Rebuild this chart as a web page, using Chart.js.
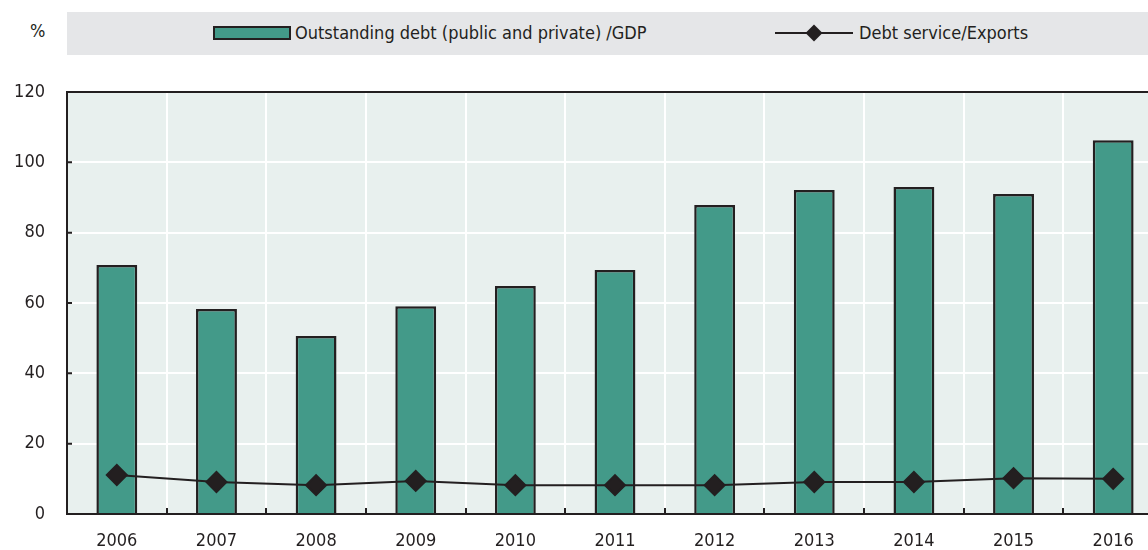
<!DOCTYPE html>
<html lang="en">
<head>
    <meta charset="UTF-8">
    <title>Debt chart</title>
    <script src="https://cdn.jsdelivr.net/npm/chart.js"></script>
    <style>
        html, body { margin: 0; padding: 0; background: #fff; overflow: hidden; }
        .wrap { position: relative; width: 1148px; height: 550px; overflow: hidden;
                font-family: 'Liberation Sans Narrow', 'DejaVu Sans Condensed', 'Roboto', sans-serif; color: #231f20; }
        .unit { position: absolute; left: 30px; top: 20px; font-size: 18px; }
        .legend { position: absolute; left: 67px; top: 12px; width: 1100px; height: 43px; background: #e5e6e8; }
        .item { position: absolute; top: 11px; font-size: 18px; line-height: 20px; white-space: nowrap; }
        .swatch { display: inline-block; width: 74px; height: 10px; background: #439a89; border: 2px solid #231f20;
                  vertical-align: -1px; margin-right: 4px; }
        .lineKey { display: inline-block; position: relative; width: 78px; height: 20px; vertical-align: top; margin-right: 6px; }
        .lineKey::before { content: ''; position: absolute; left: 0; right: 0; top: 9px; height: 2px; background: #231f20; }
        .lineKey::after { content: ''; position: absolute; left: 33px; top: 4px; width: 12px; height: 12px;
                          background: #231f20; transform: rotate(45deg); }
        canvas { position: absolute; left: 0; top: 0; }
    </style>
</head>
<body>
    <div class="wrap">
        <div class="unit">%</div>
        <div class="legend">
            <div class="item" style="left:146px"><span class="swatch"></span>Outstanding debt (public and private) /GDP</div>
            <div class="item" style="left:708px"><span class="lineKey"></span>Debt service/Exports</div>
        </div>
        <canvas id="debtChart" width="1175" height="550"></canvas>
    </div>

    <script>
        // data
        const years = ['2006', '2007', '2008', '2009', '2010', '2011', '2012', '2013', '2014', '2015', '2016'];
        const debtToGdp = [70.8, 58.3, 50.6, 59.1, 64.8, 69.4, 87.9, 92.1, 93.0, 91.0, 106.3];
        const debtServiceToExports = [11.1, 9.1, 8.2, 9.4, 8.2, 8.2, 8.2, 9.1, 9.1, 10.2, 10.0];
        const yTicks = [0, 20, 40, 60, 80, 100, 120];

        const ink = '#231f20';

        // plot background + frame + small inner tick marks
        const frame = {
            id: 'frame',
            beforeDraw(chart) {
                const { ctx, chartArea: a } = chart;
                ctx.save();
                ctx.fillStyle = '#e8f0ee';
                ctx.fillRect(a.left, a.top, a.right - a.left, a.bottom - a.top);
                ctx.restore();
            },
            afterDatasetsDraw(chart) {
                const { ctx, chartArea: a, scales } = chart;
                ctx.save();
                ctx.strokeStyle = ink;
                ctx.lineWidth = 2;
                ctx.beginPath();
                ctx.moveTo(a.left, a.top);
                ctx.lineTo(a.right, a.top);
                ctx.stroke();
                ctx.beginPath();
                yTicks.forEach(v => {
                    const y = scales.y.getPixelForValue(v);
                    ctx.moveTo(a.left, y);
                    ctx.lineTo(a.left + 5, y);
                });
                const step = (a.right - a.left) / years.length;
                for (let i = 1; i < years.length; i++) {
                    const x = Math.round(a.left + i * step);
                    ctx.moveTo(x, a.bottom);
                    ctx.lineTo(x, a.bottom - 6);
                }
                ctx.stroke();
                ctx.restore();
            }
        };

        const fontFamily = "'Liberation Sans Narrow', 'DejaVu Sans Condensed', 'Roboto', sans-serif";

        new Chart(document.getElementById('debtChart'), {
            data: {
                labels: years,
                datasets: [
                    {
                        type: 'line',
                        label: 'Debt service/Exports',
                        data: debtServiceToExports,
                        borderColor: ink,
                        backgroundColor: ink,
                        borderWidth: 2,
                        pointStyle: 'rectRot',
                        pointRadius: 10,
                        pointHoverRadius: 10,
                        tension: 0,
                        order: 0
                    },
                    {
                        type: 'bar',
                        label: 'Outstanding debt (public and private) /GDP',
                        data: debtToGdp,
                        backgroundColor: '#439a89',
                        borderColor: ink,
                        borderWidth: 2.5,
                        barPercentage: 0.41,
                        categoryPercentage: 1,
                        order: 1
                    }
                ]
            },
            plugins: [frame],
            options: {
                responsive: false,
                animation: false,
                layout: { padding: { top: 92, right: 0, left: 0, bottom: 0 } },
                plugins: {
                    legend: { display: false },
                    tooltip: { enabled: false }
                },
                scales: {
                    x: {
                        offset: true,
                        grid: { offset: true, color: '#ffffff', lineWidth: 2, drawTicks: false },
                        border: { color: ink, width: 2 },
                        ticks: { color: ink, font: { family: fontFamily, size: 18 }, padding: 17, maxRotation: 0 },
                        afterFit(scale) { scale.height = 36; }
                    },
                    y: {
                        min: 0,
                        max: 120,
                        afterBuildTicks(scale) { scale.ticks = yTicks.map(v => ({ value: v })); },
                        grid: { color: '#ffffff', lineWidth: 2, drawTicks: false },
                        border: { color: ink, width: 2 },
                        ticks: { color: ink, font: { family: fontFamily, size: 18 }, padding: 22 },
                        afterFit(scale) { scale.width = 67; }
                    }
                }
            }
        });
    </script>
</body>
</html>
